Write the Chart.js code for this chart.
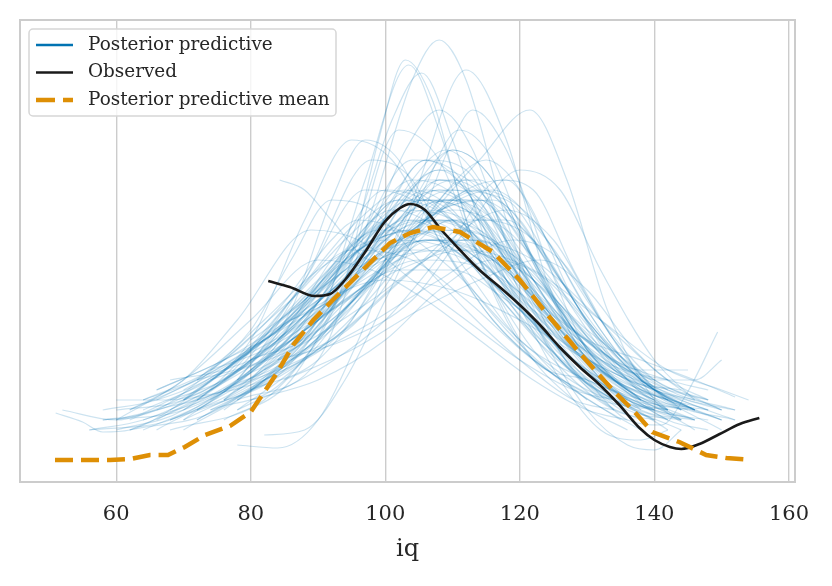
<!DOCTYPE html>
<html>
<head>
<meta charset="utf-8">
<script src="https://cdn.jsdelivr.net/npm/chart.js@4.4.1/dist/chart.umd.min.js"></script>
<style>
  html, body { margin: 0; padding: 0; background: #fff; }
  #wrap { width: 832px; height: 586px; }
</style>
</head>
<body>
<div id="wrap"><canvas id="ppcChart" width="832" height="586"></canvas></div>
<script>
// x ticks (iq)
const xTicks = [60, 80, 100, 120, 140, 160];

// observed KDE, [iq, density x1e-3]
const observed = [[82.6,17.9],[85.8,17.3],[89.5,16.4],[91.8,16.6],[94.0,18.0],[97.0,20.8],[99.9,23.8],
  [102.2,25.2],[103.7,25.6],[105.9,25.0],[108.1,23.2],[111.1,21.0],[114.0,19.0],[117.0,17.3],
  [120.0,15.5],[123.0,13.5],[125.9,11.3],[128.9,9.3],[131.9,7.5],[134.8,5.5],[137.8,3.2],
  [140.0,2.0],[142.3,1.3],[144.0,1.1],[146.7,1.6],[149.7,2.6],[152.7,3.6],[155.6,4.2]];

// posterior predictive mean KDE
const ppMean = [[50.9,0],[59.1,0],[62.1,0.1],[65.0,0.5],[67.7,0.5],[70.2,1.3],[73.2,2.5],[76.9,3.4],
  [80.0,4.8],[81.7,6.5],[83.9,8.7],[86.3,11.5],[89.3,14.0],[92.2,16.0],[96.2,18.7],[100.7,21.7],
  [103.7,22.7],[107.1,23.3],[111.1,22.8],[116.0,20.8],[120.0,18.0],[124.4,14.3],[128.9,10.7],
  [133.8,7.0],[136.8,5.0],[139.7,2.8],[143.7,1.8],[147.7,0.5],[150.7,0.2],[154.4,0]];

// posterior predictive draws (one KDE each)
const ppSamples = [
  [[78,6],[90,10],[98,25],[104,38],[108,42],[112,38],[118,24],[125,12],[132,6],[138,4]],
  [[74,5],[85,8],[94,18],[99,32],[103,40],[107,36],[112,24],[120,12],[128,6],[136,3]],
  [[80,10],[90,14],[97,28],[103.5,39.5],[108,33],[114,20],[122,10],[130,8],[140,5]],
  [[70,4],[82,8],[95,14],[104,26],[112,39],[118,32],[124,18],[132,8],[142,3]],
  [[76,7],[88,12],[96,24],[101,34],[105.4,38.7],[110,32],[116,20],[124,12],[134,6]],
  [[68,3],[82,6],[95,16],[106,24],[114,30],[121.5,35],[127,28],[133,15],[140,6],[146,3]],
  [[72,5],[85,9],[96,20],[103,31],[108,35],[113,31],[120,18],[128,9],[137,4]],
  [[70,6],[80,12],[88,24],[95,32],[101,30],[108,22],[116,14],[126,8],[135,4]],
  [[84.3,28],[88,27],[92,24],[98,20],[104,22],[110,24],[118,18],[126,10],[134,5]],
  [[66,3],[78,8],[88,18],[98,30],[104,28],[110,20],[118,13],[128,7],[138,3]],
  [[74,5],[88,10],[100,18],[108,26],[115,30],[121,26],[128,16],[136,8],[144,4]],
  [[62,3],[75,5],[88,12],[100,22],[110,28],[118,24],[126,15],[134,8],[142,4],[148,3]],
  [[58,4],[70,5],[82,10],[92,20],[100,27],[108,25],[116,18],[125,10],[134,5],[140,4]],
  [[80,12],[88,16],[96,22],[106,26],[114,24],[122,16],[130,9],[138,5],[146,4]],
  [[76,6],[86,10],[96,16],[105,23],[113,27],[120,24],[128,15],[136,8],[148,5]],
  [[60,5],[70,6],[80,10],[90,17],[98,22],[103,24],[110,22],[118,16],[126,10],[134,6],[144,3]],
  [[70,6],[82,8],[94,13],[106,20],[118,25],[125,22],[132,14],[140,7],[150,3]],
  [[64,6],[74,9],[84,15],[92,22],[96,24],[102,23],[110,19],[120,12],[130,7],[140,5]],
  [[56,3],[68,4],[80,9],[92,16],[100,21],[108,24],[116,21],[124,14],[132,8],[142,4]],
  [[52,5],[60,4],[68,6],[78,10],[88,16],[100,22],[110,21],[120,15],[130,9],[140,5],[148,4]],
  [[74,8],[86,11],[98,16],[106,20],[112,22],[120,20],[128,14],[136,9],[144,6],[152,4]],
  [[62,3],[72,6],[84,12],[94,18],[104,21],[112,20],[120,15],[128,10],[138,6],[146,5]],
  [[78,5],[88,10],[98,18],[106,22],[114,20],[122,14],[130,8],[136,4],[141,3.5],[144.5,6.3],[149.4,12.8]],
  [[72,4],[84,9],[96,17],[106,22],[116,20],[124,15],[130,12],[138,10],[146,8],[152,6.3]],
  [[60,4],[70,8],[80,14],[90,20],[98,19],[106,16],[114,12],[122,8],[130,5],[136,4]],
  [[80,6],[90,8],[100,12],[108,17],[116,20],[124,18],[132,12],[140,7],[150,4]],
  [[76,4],[86,8],[94,18],[102,33],[108,30],[114,20],[122,11],[130,6]],
  [[82,9],[92,13],[100,20],[106,28],[110,31],[116,28],[124,17],[132,9],[140,5]],
  [[68,5],[78,9],[88,18],[97,27],[104,26],[112,19],[120,12],[130,8],[138,6]],
  [[72,6],[84,9],[96,13],[108,18],[119,22],[126,20],[134,12],[142,6],[152,4]],
  [[70,3],[82,8],[92,16],[100,25],[106,30],[112,27],[120,17],[128,9],[136,5],[144,4]],
  [[66,7],[76,10],[86,14],[94,21],[101,25],[108,23],[116,17],[124,11],[134,6],[142,5]],
  [[78,7],[88,11],[98,18],[109,26],[116,24],[124,16],[132,10],[140,7],[146,6]],
  [[68,4],[80,7],[92,12],[104,19],[114,24],[122,22],[130,14],[138,8],[146,5]],
  [[60,3],[70,5],[80,11],[90,18],[99,23],[108,22],[117,17],[126,11],[136,6],[146,4]],
  [[85,8],[95,11],[105,15],[114,18],[123,20],[130,17],[137,11],[144,7],[150,5]],
  [[72,8],[80,13],[86,20],[92,26],[98,25],[105,20],[112,15],[120,10],[128,6],[134,5]],
  [[64,4],[76,7],[88,14],[96,22],[104,28],[111,26],[118,18],[126,10],[134,6],[142,4]],
  [[51,4.7],[55,3.8],[58,2.8],[62,3],[68,5],[76,9],[86,15],[96,21],[104,23],[112,20],[120,14],[130,8],[140,4]],
  [[80,7],[90,10],[98,17],[105,26],[111,33],[116,30],[122,20],[130,10],[138,5]],
  [[58,4],[66,5],[76,10],[86,16],[95,21],[104,20],[112,16],[122,10],[132,6],[140,5]],
  [[78,5],[90,9],[100,14],[110,22],[117,28],[122,27],[128,19],[136,10],[144,5]],
  [[66,7],[76,10],[86,14],[100,18],[110,17],[120,14],[130,10],[140,7],[150,5]],
  [[72,8],[82,10],[92,14],[100,19],[107,22],[114,21],[122,16],[130,11],[140,7],[148,5]],
  [[62,5],[70,8],[78,14],[89,23],[96,22],[104,18],[112,14],[120,10],[128,7],[134,6]],
  [[86,10],[96,14],[104,22],[110,32],[113,35],[118,31],[124,20],[130,11],[138,6]],
  [[78,8],[86,15],[92,26],[97,32],[102,30],[108,22],[116,14],[124,9],[132,6]],
  [[56,3],[64,4],[74,7],[86,12],[96,17],[105,20],[115,19],[125,14],[135,9],[145,6],[152,5]],
  [[84,10],[94,12],[104,16],[112,23],[120,29],[126,27],[132,19],[140,10],[146,6]],
  [[68,8],[76,9],[86,12],[94,16],[102,19],[110,19],[118,16],[128,11],[138,7],[146,5]],
  [[70,5],[80,9],[90,16],[100,24],[108,29],[114,27],[122,18],[130,10],[138,6],[145,5]],
  [[74,7],[84,12],[94,20],[102,26],[110,26],[118,20],[126,13],[134,8],[142,6]],
  [[64,5],[74,8],[84,13],[94,19],[104,25],[112,26],[120,20],[128,12],[136,7],[144,5]],
  [[82,11],[90,15],[98,22],[106,30],[112,29],[118,22],[126,13],[134,7],[142,5]],
  [[60,6],[68,6],[78,9],[88,15],[98,23],[106,26],[114,22],[122,15],[132,9],[142,6],[150,4]],
  [[76,9],[84,13],[92,19],[100,24],[106,27],[113,25],[120,19],[128,12],[136,8],[144,7]],
  [[68,4],[78,7],[88,13],[98,21],[108,27],[118,26],[126,18],[134,10],[142,5]],
  [[80,8],[88,14],[96,21],[103,25],[110,24],[118,19],[126,14],[134,10],[142,8],[148,7]],
  [[72,4],[82,8],[92,15],[100,23],[106,28],[114,28],[122,20],[130,11],[138,6],[146,4]],
  [[66,4],[76,8],[86,16],[96,24],[103,27],[110,24],[118,17],[128,10],[136,6],[144,4]],
  [[78,10],[86,13],[94,17],[102,22],[110,25],[118,23],[126,17],[134,11],[140,8],[146,8],[150,10]],
  [[84,13],[92,18],[100,24],[108,27],[116,23],[124,15],[132,9],[140,6]],
  [[62,4],[72,7],[82,12],[92,18],[102,22],[112,23],[122,18],[132,11],[142,6],[150,4]],
  [[70,7],[80,11],[90,17],[98,22],[106,24],[114,23],[122,18],[130,12],[138,7],[144,5]],
  [[76,6],[86,11],[96,19],[104,27],[110,31],[116,28],[122,20],[130,11],[138,6]],
  [[80,9],[88,13],[96,18],[106,24],[116,27],[124,22],[132,14],[140,8],[148,6]],
  [[58,5],[66,6],[76,9],[86,15],[96,22],[104,26],[112,25],[120,18],[128,11],[136,6],[142,5]],
  [[74,6],[84,10],[94,17],[102,24],[108,28],[115,25],[122,17],[130,10],[140,6],[148,5]],
  [[88,16],[94,19],[100,23],[106,25],[112,24],[120,19],[128,13],[136,9],[142,8]],
  [[66,6],[74,9],[82,14],[90,19],[98,22],[106,23],[114,20],[122,15],[132,10],[140,8]],
  [[72,5],[82,9],[92,14],[102,20],[110,24],[118,24],[126,18],[134,11],[142,7],[152,5]],
  [[78,8],[88,12],[96,19],[104,28],[109,31],[114,28],[120,19],[128,11],[136,7]],
  [[64,3],[74,6],[84,11],[94,18],[102,23],[110,24],[118,20],[126,13],[136,7],[146,4]],
  [[82,10],[90,14],[98,19],[106,22],[114,22],[122,17],[130,12],[138,9],[145,9]],
  [[70,4],[80,9],[90,17],[98,24],[104,27],[110,25],[118,17],[126,10],[134,6],[140,4]],
  [[86,14],[92,16],[100,21],[108,25],[116,26],[124,20],[132,12],[140,7],[146,5]],
  [[60,4],[70,6],[80,11],[90,16],[100,20],[110,21],[120,19],[130,13],[140,8],[150,5]],
  [[76,8],[84,12],[92,17],[100,21],[108,23],[116,22],[124,17],[132,11],[140,7]],
  [[68,6],[76,8],[86,13],[96,20],[104,24],[112,23],[120,18],[128,13],[136,9],[142,7]],
  [[80,7],[90,12],[100,20],[108,26],[114,26],[120,21],[128,13],[136,7],[144,4]],
  [[74,9],[82,11],[92,15],[102,19],[112,21],[122,19],[132,14],[142,9],[150,7],[154,6]],
  [[84,12],[92,17],[100,22],[106,24],[112,22],[118,18],[126,13],[134,9],[142,7],[148,6]],
  [[66,5],[76,7],[86,12],[96,18],[106,24],[114,27],[122,24],[130,15],[138,8],[146,5]],
  [[72,6],[80,10],[88,16],[96,21],[104,23],[112,21],[120,16],[128,11],[136,8],[142,6]],
  [[62,5],[72,8],[82,12],[92,16],[102,20],[112,22],[122,20],[132,14],[142,8],[148,6]],
  [[78,6],[88,11],[98,18],[106,24],[114,26],[122,22],[130,14],[138,8],[146,5]],
  [[70,6],[78,10],[86,16],[94,22],[102,26],[110,24],[118,18],[126,12],[134,8],[140,6]],
  [[86,12],[96,17],[104,22],[112,27],[118,28],[124,22],[132,13],[140,7],[146,5]],
  [[64,6],[72,8],[82,12],[92,17],[100,21],[108,22],[116,20],[124,15],[134,9],[144,5]],
  [[76,5],[86,10],[96,18],[104,25],[110,27],[118,24],[126,16],[134,9],[142,5]],
  [[78,1.5],[84,1.2],[90,4],[96,12],[102,22],[108,28],[114,26],[120,18],[128,10],[136,6]],
  [[82,2.5],[88,3],[94,8],[100,16],[106,24],[112,28],[118,25],[126,15],[134,8],[142,5]],
  [[84,10],[94,18],[102,26],[108,29],[114,25],[122,14],[130,5],[136,1.5],[140,1],[144,3]],
  [[76,6],[86,12],[96,22],[104,30],[110,29],[118,18],[126,8],[132,3],[138,2],[142,3]]
];

const legendItems = [
  { label: "Posterior predictive", color: "#0173b2", dash: [] },
  { label: "Observed", color: "#1a1a1a", dash: [] },
  { label: "Posterior predictive mean", color: "#de8f05", dash: [19, 8] }
];

const FONT = "'DejaVu Serif', serif";
const TXT = "#262626";

var datasets = ppSamples.map((s) => ({
  data: s,
  borderColor: "rgba(1,115,178,0.2)",
  borderWidth: 1.2,
  pointRadius: 0,
  cubicInterpolationMode: "monotone",
  fill: false,
  order: 2
}));
datasets.push({
  data: observed,
  borderColor: "#1a1a1a",
  borderWidth: 2.6,
  pointRadius: 0,
  cubicInterpolationMode: "monotone",
  order: 1
});
datasets.push({
  data: ppMean,
  borderColor: "#de8f05",
  borderWidth: 4.5,
  borderDash: [18, 8],
  pointRadius: 0,
  tension: 0,
  order: 0
});

// frame round the plot area + legend box inside it
const framePlugin = {
  id: "frame",
  afterDraw(chart) {
    var ctx = chart.ctx, a = chart.chartArea;
    ctx.save();
    ctx.strokeStyle = "#cccccc";
    ctx.lineWidth = 2;
    ctx.strokeRect(a.left, a.top, a.right - a.left, a.bottom - a.top);

    // legend
    var bx = a.left + 9, by = a.top + 9, bw = 307, bh = 87;
    ctx.fillStyle = "rgba(255,255,255,0.8)";
    ctx.strokeStyle = "#d6d6d6";
    ctx.lineWidth = 1.5;
    ctx.beginPath();
    ctx.roundRect(bx, by, bw, bh, 4);
    ctx.fill();
    ctx.stroke();
    ctx.font = "18.4px " + FONT;
    ctx.textBaseline = "middle";
    legendItems.forEach((it, i) => {
      var y = by + 16 + i * 27.5;
      ctx.strokeStyle = it.color;
      ctx.lineWidth = it.dash.length ? 4.5 : 2.6;
      ctx.setLineDash(it.dash);
      ctx.beginPath();
      ctx.moveTo(bx + 7, y);
      ctx.lineTo(bx + 44, y);
      ctx.stroke();
      ctx.setLineDash([]);
      ctx.fillStyle = TXT;
      ctx.fillText(it.label, bx + 59, y);
    });
    ctx.restore();
  }
};

new Chart(document.getElementById("ppcChart"), {
  type: "line",
  data: { datasets: datasets },
  plugins: [framePlugin],
  options: {
    responsive: false,
    animation: false,
    devicePixelRatio: 1,
    layout: { padding: { left: 20, right: 37, top: 20, bottom: 22 } },
    plugins: { legend: { display: false }, tooltip: { enabled: false } },
    scales: {
      x: {
        type: "linear",
        min: 45.7,
        max: 160.9,
        afterBuildTicks: (axis) => { axis.ticks = xTicks.map((v) => ({ value: v })); },
        afterFit: (scale) => { scale.height = 82; },
        grid: { color: "#cccccc", lineWidth: 1.4, drawTicks: false },
        border: { display: false },
        ticks: { color: TXT, font: { family: FONT, size: 21 }, padding: 20, maxRotation: 0 },
        title: { display: true, text: "iq", color: TXT, font: { family: FONT, size: 24 }, padding: { top: 8, bottom: 0 } }
      },
      y: {
        display: false,
        min: -2.2,
        max: 44
      }
    }
  }
});
</script>
</body>
</html>
